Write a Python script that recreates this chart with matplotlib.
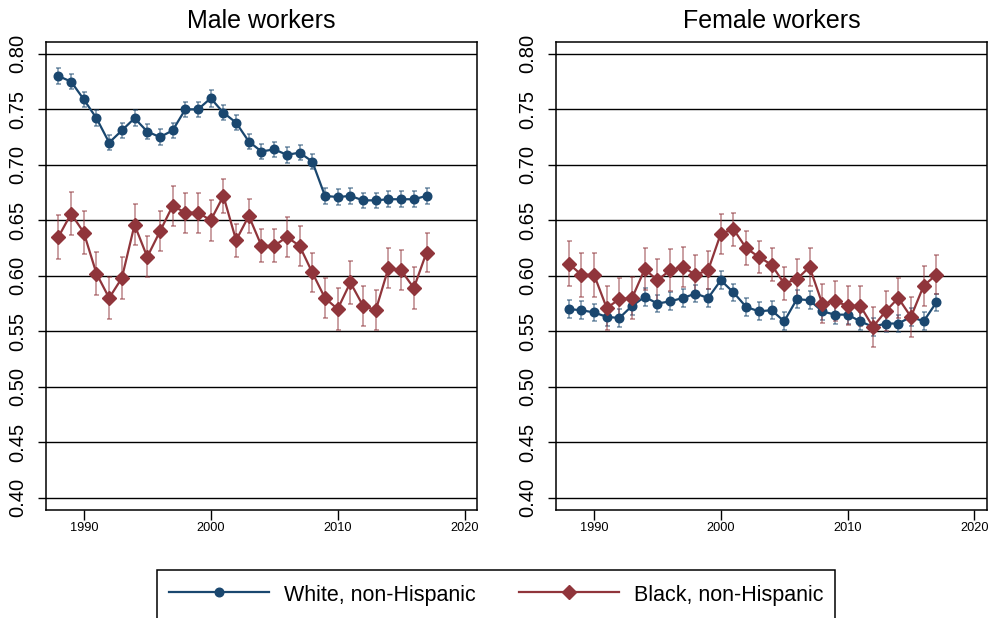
import matplotlib.pyplot as plt
from matplotlib.lines import Line2D
import numpy as np

plt.rcParams['font.family'] = ['Liberation Sans', 'DejaVu Sans']

years = np.arange(1988, 2018)

# male workers
male_white = [0.780, 0.775, 0.759, 0.742, 0.720, 0.731, 0.742, 0.730, 0.725, 0.731,
              0.750, 0.750, 0.760, 0.747, 0.738, 0.721, 0.712, 0.714, 0.709, 0.711,
              0.703, 0.672, 0.671, 0.672, 0.668, 0.668, 0.669, 0.669, 0.669, 0.672]
male_white_se = [0.0075, 0.007, 0.007, 0.007, 0.007, 0.007, 0.007, 0.007, 0.007, 0.007,
                 0.007, 0.007, 0.0075, 0.007, 0.007, 0.007, 0.007, 0.007, 0.007, 0.007,
                 0.007, 0.0075, 0.007, 0.007, 0.007, 0.007, 0.007, 0.007, 0.007, 0.007]
male_black = [0.635, 0.656, 0.639, 0.602, 0.580, 0.598, 0.646, 0.617, 0.640, 0.663,
              0.657, 0.657, 0.650, 0.672, 0.632, 0.654, 0.627, 0.627, 0.635, 0.627,
              0.603, 0.580, 0.570, 0.594, 0.573, 0.569, 0.607, 0.605, 0.589, 0.621]
male_black_se = [0.020, 0.0195, 0.019, 0.0195, 0.019, 0.019, 0.0185, 0.0185, 0.018, 0.018,
                 0.018, 0.018, 0.0186, 0.015, 0.015, 0.015, 0.015, 0.015, 0.018, 0.018,
                 0.018, 0.018, 0.019, 0.019, 0.018, 0.018, 0.018, 0.018, 0.019, 0.018]

# female workers
female_white = [0.570, 0.569, 0.567, 0.563, 0.562, 0.573, 0.581, 0.575, 0.577, 0.580,
                0.584, 0.580, 0.596, 0.585, 0.572, 0.568, 0.569, 0.559, 0.579, 0.578,
                0.568, 0.565, 0.565, 0.559, 0.554, 0.557, 0.557, 0.563, 0.559, 0.576]
female_white_se = [0.008] * 30
female_black = [0.611, 0.601, 0.601, 0.571, 0.579, 0.580, 0.606, 0.596, 0.605, 0.608,
                0.601, 0.605, 0.638, 0.642, 0.625, 0.617, 0.610, 0.593, 0.597, 0.608,
                0.575, 0.577, 0.573, 0.573, 0.554, 0.568, 0.580, 0.563, 0.591, 0.601]
female_black_se = [0.0205, 0.020, 0.020, 0.020, 0.019, 0.019, 0.019, 0.019, 0.019, 0.018,
                   0.018, 0.017, 0.018, 0.0147, 0.015, 0.0146, 0.015, 0.0146, 0.018, 0.017,
                   0.0176, 0.018, 0.0176, 0.018, 0.018, 0.018, 0.018, 0.018, 0.018, 0.0175]

titles = ['Male workers', 'Female workers']
series_labels = ['White, non-Hispanic', 'Black, non-Hispanic']
navy = '#1a476f'
maroon = '#90353b'

fig = plt.figure(figsize=(9.89, 6.18), dpi=100)
ax_m = fig.add_axes([0.0462, 0.1748, 0.4364, 0.7578])
ax_f = fig.add_axes([0.5622, 0.1748, 0.4358, 0.7578])

panels = [
    (ax_m, male_white, male_white_se, male_black, male_black_se),
    (ax_f, female_white, female_white_se, female_black, female_black_se),
]

yticks = np.arange(0.40, 0.801, 0.05)

for (ax, w, w_se, b, b_se), title in zip(panels, titles):
    for vals, se, col, mk, ms in [(w, w_se, navy, 'o', 6.2), (b, b_se, maroon, 'D', 7.2)]:
        ax.errorbar(years, vals, yerr=se, fmt='none', ecolor=col, alpha=0.6,
                    elinewidth=1.1, capsize=1.8, capthick=1.1, zorder=3)
        ax.plot(years, vals, color=col, lw=1.6, marker=mk, ms=ms, zorder=4)

    for y in yticks:
        ax.axhline(y, color='black', lw=1.0, zorder=1)

    ax.set_xlim(1987, 2021)
    ax.set_ylim(0.389, 0.811)
    ax.set_xticks([1990, 2000, 2010, 2020])
    ax.set_yticks(yticks)
    ax.set_yticklabels([f'{v:.2f}' for v in yticks], rotation=90, va='center')
    ax.tick_params(axis='y', labelsize=14.5, length=5.5, width=1.0, pad=8)
    ax.tick_params(axis='x', labelsize=9.2, length=7, width=1.0, pad=2)
    for sp in ax.spines.values():
        sp.set_linewidth(1.1)
        sp.set_color('black')
    ax.set_title(title, fontsize=18, pad=10)

handles = [
    Line2D([], [], color=navy, lw=1.6, marker='o', ms=6.2),
    Line2D([], [], color=maroon, lw=1.6, marker='D', ms=7.2),
]
leg = fig.legend(handles, series_labels, loc='upper left',
                 bbox_to_anchor=(0.1587, 0.0777), borderaxespad=0, ncol=2,
                 fontsize=15.5, handlelength=4.65, handleheight=1.4,
                 handletextpad=0.7, columnspacing=2.0, borderpad=0.55,
                 fancybox=False, edgecolor='black')
leg.get_frame().set_linewidth(1.1)
leg.get_frame().set_alpha(1)

fig.savefig('out.png', dpi=100)
